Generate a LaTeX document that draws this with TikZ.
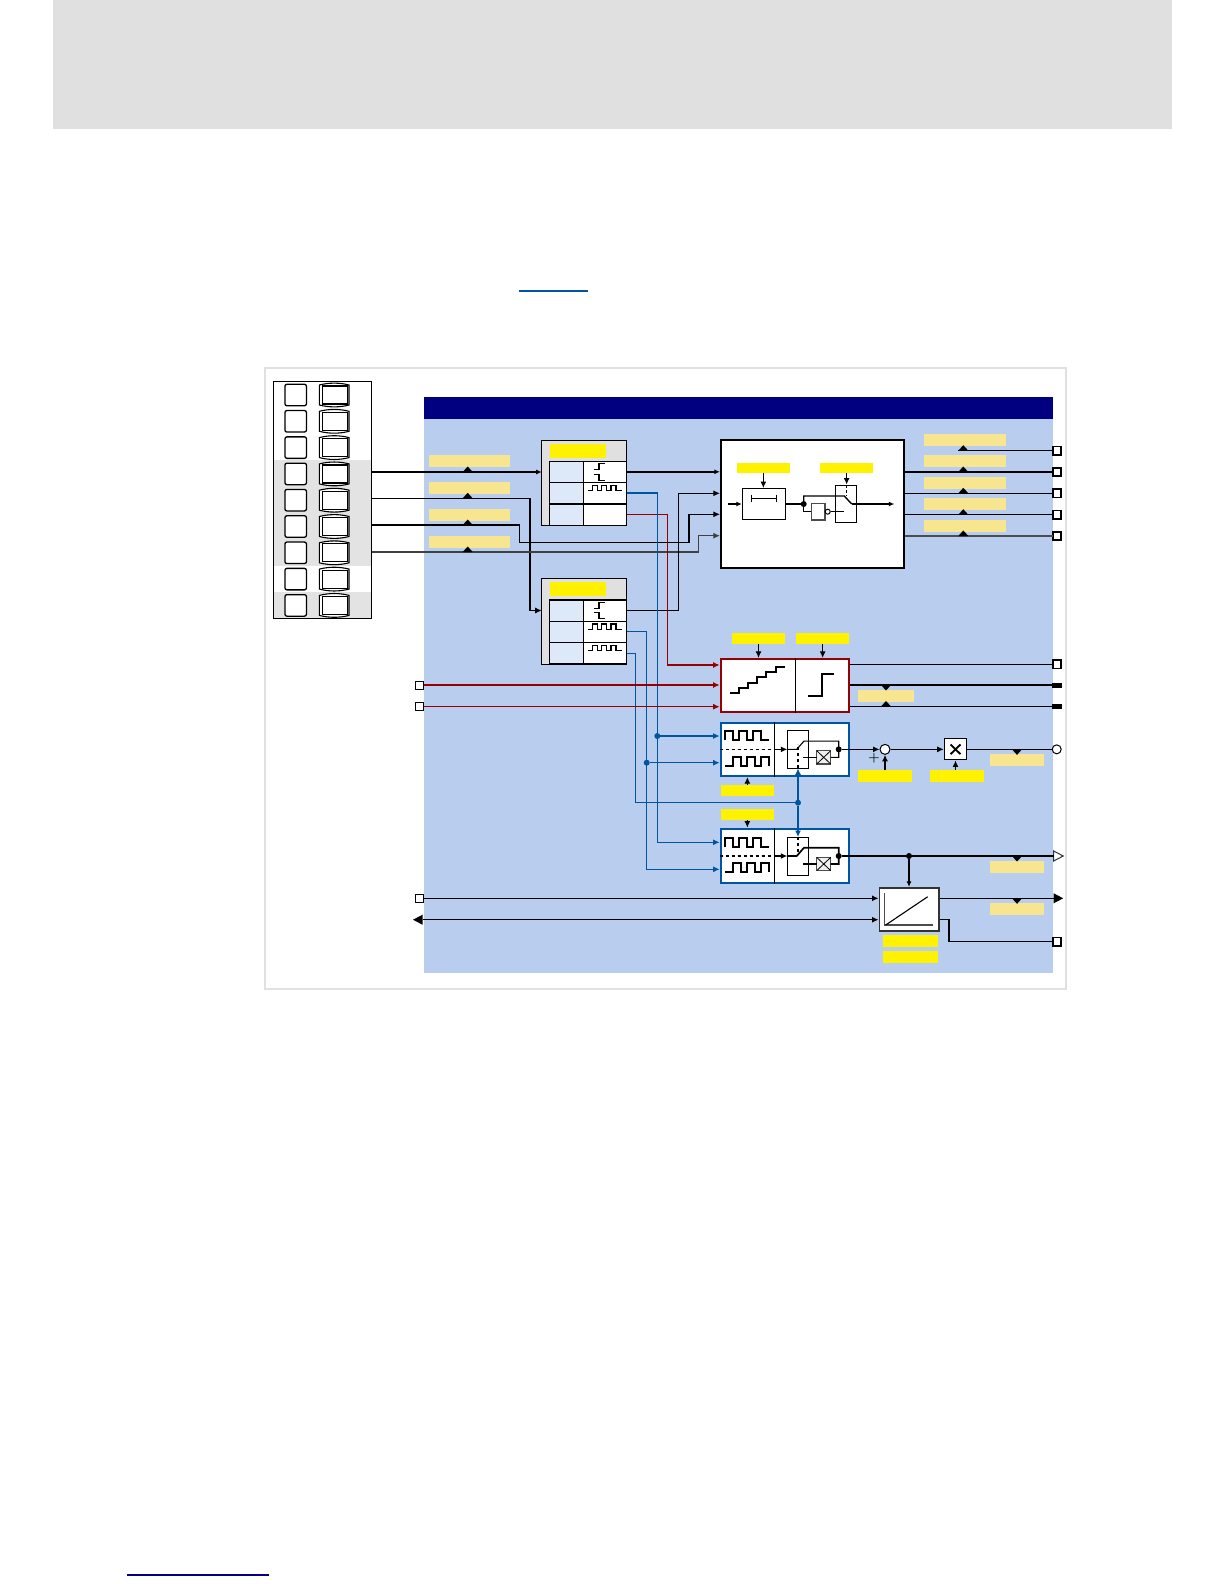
\documentclass[tikz,border=0pt]{standalone}
\usepackage{tikz}
\usetikzlibrary{arrows.meta}
\usetikzlibrary{shapes.geometric}
\definecolor{figMarco}{RGB}{224,224,224}
\definecolor{figPanel}{RGB}{185,206,239}
\definecolor{figNavy}{RGB}{0,0,128}
\definecolor{figPale}{RGB}{247,229,143}
\definecolor{figCelda}{RGB}{221,233,248}
\definecolor{figRojo}{RGB}{150,0,0}
\definecolor{figAzul}{RGB}{0,85,160}
\tikzset{
  patch/.style={rectangle, draw=none, inner sep=0pt, outer sep=0pt},
  pale/.style={patch, fill=figPale, minimum height=12pt},
  yellowtag/.style={patch, fill=yellow, minimum height=11.5pt},
  caja/.style={rectangle, draw=black, fill=white, line width=2.2pt, inner sep=0pt},
  cajaroja/.style={caja, draw=figRojo},
  cajaazul/.style={caja, draw=figAzul},
  celda/.style={rectangle, draw=black, line width=1pt, fill=white, inner sep=0pt, outer sep=0pt, minimum height=21.4pt},
  celdal/.style={celda, fill=figCelda, minimum width=34pt},
  celdar/.style={celda, minimum width=43.4pt},
  tabla/.style={rectangle, draw=black, line width=1pt, fill=figMarco, inner sep=0pt, outer sep=0pt, minimum width=85pt, minimum height=85pt},
  endsq/.style={rectangle, draw=black, fill=white, line width=1.8pt, minimum size=8.5pt, inner sep=0pt, outer sep=0pt},
  startsq/.style={endsq, line width=1pt, minimum size=8pt},
  endblack/.style={rectangle, fill=black, minimum width=10pt, minimum height=5pt, inner sep=0pt, outer sep=0pt},
  endtri/.style={isosceles triangle, isosceles triangle stretches, minimum height=9.5pt, minimum width=10pt, inner sep=0pt, outer sep=0pt},
  punto/.style={circle, fill=black, minimum size=6pt, inner sep=0pt, outer sep=0pt},
  puntoazul/.style={punto, fill=figAzul},
  circulo/.style={circle, draw=black, fill=white, line width=1pt, inner sep=0pt},
  linea/.style={line width=1.1pt, draw=black},
  flecha/.style={-{Latex[length=6.5pt,width=6pt]}, line width=1.1pt, draw=black},
  flechag/.style={flecha, line width=1.9pt, -{Latex[length=5.5pt,width=5pt]}},
  flechar/.style={flecha, draw=figRojo},
  flechaa/.style={flecha, draw=figAzul},
  tapup/.pic={\fill (-5,0) -- (0,-5.5) -- (5,0) -- cycle;},
  tapdown/.pic={\fill (-5,0) -- (0,5.5) -- (5,0) -- cycle;},
  edgepair/.pic={
    \draw[line width=1.1pt] (-11,-2.4) -- (-6,-2.4) -- (-6,-8.4) -- (0,-8.4);
    \draw[line width=1.1pt] (-11,2.4) -- (-6,2.4) -- (-6,8.4) -- (0,8.4);
  },
  smallpulse/.pic={
    \draw[line width=1.1pt] (-17,-2.2) -- (-12.7,-2.2) -- (-12.7,-7.8) -- (-7.7,-7.8) -- (-7.7,-2.2) -- (-3.3,-2.2) -- (-3.3,-7.8) -- (1.7,-7.8) -- (1.7,-2.2) -- (6,-2.2) -- (6,-7.8) -- (11,-7.8) -- (11,-2.2) -- (16.7,-2.2);
  },
  bigpulse/.pic={
    \draw[line width=1.7pt] (0,0) -- (0,-9) -- (8,-9) -- (8,0) -- (14,0) -- (14,-9) -- (22,-9) -- (22,0) -- (28,0) -- (28,-9) -- (36,-9) -- (36,0) -- (44,0);
  },
  lowpulse/.pic={
    \draw[line width=1.7pt] (0,0) -- (8,0) -- (8,-9) -- (16,-9) -- (16,0) -- (22,0) -- (22,-9) -- (30,-9) -- (30,0) -- (36,0) -- (36,-9) -- (44,-9) -- (44,0);
  },
  switchunit/.pic={
    \node[rectangle, draw=black, fill=white, line width=1pt, minimum width=21.4pt, minimum height=38pt, inner sep=0pt, outer sep=0pt] (box) at (0,0) {};
    \node[rectangle, draw=black!70, fill=black!6, line width=1.2pt, minimum width=14pt, minimum height=13.3pt, inner sep=0pt, outer sep=0pt] (cross) at (25.7,8) {};
    \draw[line width=0.8pt] (cross.north west) -- (cross.south east) (cross.north east) -- (cross.south west);
    \node[punto] (dot) at (40.7,0) {};
    \draw (-11,0) -- (-1.3,0) -- (6,-8.3) -- (40.7,-8.3) -- (40.7,8) -- (cross.east);
    \draw (5.3,8) -- (cross.west);
  }
}
\begin{document}
\begin{tikzpicture}[x=1pt,y=-1pt]
  \useasboundingbox (0,0) rectangle (1224,1584);
  \node[patch, fill=figMarco, minimum width=1119.5pt, minimum height=129pt] (header) at (612.25,64.5) {};
  \fill[figAzul] (519,290.4) rectangle (588,291.6);
  \fill[figNavy] (127,1574.4) rectangle (269,1575.6);
  \node[patch, draw=figMarco, line width=2.2pt, minimum width=801pt, minimum height=621pt] (frame) at (665.5,678.5) {};
  \node[patch, fill=figMarco!90, minimum width=97pt, minimum height=105.7pt] (bandA) at (322.5,512.85) {};
  \node[patch, fill=figMarco!90, minimum width=97pt, minimum height=26.3pt] (bandB) at (322.5,604.85) {};
  \node[patch, draw=black, line width=1.5pt, minimum width=98.4pt, minimum height=236.6pt] (terminal) at (322.5,500) {};
  \foreach \n [evaluate=\n as \y using 395+(\n-1)*26.3] in {1,...,9} {
    \node[rectangle, draw=black, fill=white, line width=1.3pt, rounded corners=2pt, minimum size=21.5pt, inner sep=0pt] (slot\n) at (295.7,\y) {};
    \draw[line width=1.1pt, fill=white] (319.4,\y-10) .. controls (329,\y-12.5) and (339.5,\y-12.5) .. (349,\y-10) -- (349,\y+10) .. controls (339.5,\y+12.5) and (329,\y+12.5) .. (319.4,\y+10) -- cycle;
    \node[rectangle, draw=black, line width=1.2pt, minimum width=24.7pt, minimum height=18pt, inner sep=0pt] (plug\n) at (335,\y) {};
  }
  \node[patch, fill=figPanel, minimum width=629pt, minimum height=553.7pt] (panel) at (738.5,695.85) {};
  \node[patch, fill=figNavy, minimum width=629pt, minimum height=22.3pt] (title) at (738.5,407.85) {};

  \foreach \n/\y in {1/461.15,2/488,3/515,4/541.65}
    \node[pale, minimum width=81pt] (paleIn\n) at (469.5,\y) {};
  \foreach \n/\y in {1/440,2/461.15,3/482.85,4/504,5/525.5}
    \node[pale, minimum width=82pt] (paleOut\n) at (965,\y) {};
  \node[pale, minimum width=55.4pt] (paleD) at (886,695.85) {};
  \foreach \n/\y in {1/760.15,2/866.85,3/909.15}
    \node[pale, minimum width=54pt] (paleE\n) at (1017,\y) {};

  \node[tabla] (blockA) at (584.2,482.8) {};
  \node[yellowtag, minimum width=56pt, minimum height=14pt] (tagA) at (578.3,451) {};
  \foreach \n/\y in {1/471.8,2/493,3/514.5} {
    \node[celdal] (aL\n) at (566.3,\y) {};
    \node[celdar] (aR\n) at (605,\y) {};
  }
  \draw[line width=1.8pt] (aL3.north west) -- (aR3.north east);
  \pic at (aR1.center) {edgepair};
  \pic at (aR2.center) {smallpulse};
  \node[tabla, minimum height=86pt] (blockB) at (584.2,621.3) {};
  \node[yellowtag, minimum width=56pt, minimum height=14pt] (tagB) at (578.3,589) {};
  \foreach \n/\y in {1/610.5,2/631.8,3/653.1} {
    \node[celdal] (bL\n) at (566.3,\y) {};
    \node[celdar] (bR\n) at (605,\y) {};
  }
  \draw[line width=1.8pt] (bL1.north west) -- (bR1.north east);
  \pic at (bR1.center) {edgepair};
  \pic at (bR2.center) {smallpulse};
  \pic at (bR3.center) {smallpulse};

  \node[caja, minimum width=183.3pt, minimum height=128pt] (blockC) at (812.65,504) {};
  \node[yellowtag, minimum width=53.3pt, minimum height=10.6pt] (tagC1) at (763.35,468) {};
  \node[yellowtag, minimum width=53.3pt, minimum height=10.6pt] (tagC2) at (846.65,468) {};
  \node[rectangle, draw=black, line width=1pt, minimum width=43.4pt, minimum height=31pt, inner sep=0pt] (boxH) at (764,504) {};
  \node[rectangle, draw=black, line width=1pt, minimum width=21.4pt, minimum height=37.3pt, inner sep=0pt] (boxS) at (846,503.65) {};
  \node[rectangle, draw=black!70, fill=white, line width=1.3pt, minimum width=13.3pt, minimum height=16.7pt, inner sep=0pt] (notBox) at (818.35,511.7) {};
  \node[circulo, minimum size=5pt] (bubble) at (827.7,511.7) {};
  \node[punto] (dotC) at (803.7,504) {};
  \coordinate (entryC) at (728.3,504);
  \coordinate (poleC) at (844.3,496);
  \coordinate (hingeC) at (851.7,504);
  \coordinate (exitC) at (894.3,504);
  \coordinate (contactC) at (844,511.7);
  \draw[{Bar[width=7pt]}-{Bar[width=7pt]}, line width=1pt] (750.7,498.3) -- (777.3,498.3);
  \draw[flecha] (tagC1.south) -- (tagC1.south |- boxH.north);
  \draw[flecha] (tagC2.south) -- (tagC2.south |- boxS.north);
  \draw[flechag] (entryC) -- (boxH.west);
  \draw[line width=1.7pt] (boxH.east) -- (dotC);
  \draw[line width=1.4pt] (dotC) |- (poleC) -- (hingeC);
  \draw[flechag] (hingeC) -- (exitC);
  \draw[line width=1.4pt] (dotC) |- (notBox.west);
  \draw[line width=1.4pt] (bubble.east) -- (contactC);
  \draw[linea, densely dashed] (boxS.north -| poleC) ++(2.4,0) -- (846.7,496);

  \node[cajaroja, minimum width=128.6pt, minimum height=53pt] (blockD) at (785,685.5) {};
  \coordinate (divD) at (795.3,0);
  \draw[linea] (divD |- blockD.north) -- (divD |- blockD.south);
  \draw[line width=1.8pt] (730,692.7) -- (739.3,692.7) -- (739.3,687.7) -- (747.7,687.7) -- (747.7,682.7) -- (756.7,682.7) -- (756.7,677.3) -- (765.7,677.3) -- (765.7,671.7) -- (775.7,671.7) -- (775.7,666.7) -- (785,666.7);
  \draw[line width=1.8pt] (808.3,696) -- (821.7,696) -- (821.7,674.3) -- (834,674.3);
  \node[yellowtag, minimum width=53pt] (tagD1) at (758.5,638.35) {};
  \node[yellowtag, minimum width=53.3pt] (tagD2) at (822.65,638.35) {};
  \draw[flecha] (tagD1.south) -- (tagD1.south |- blockD.north);
  \draw[flecha] (tagD2.south) -- (tagD2.south |- blockD.north);

  \node[cajaazul, minimum width=128.6pt, minimum height=53.3pt] (blockEa) at (785,749.35) {};
  \node[cajaazul, minimum width=128.6pt, minimum height=54.6pt] (blockEb) at (785,856) {};
  \coordinate (divE) at (774.7,0);
  \draw[linea] (divE |- blockEa.north) -- (divE |- blockEa.south);
  \draw[linea] (divE |- blockEb.north) -- (divE |- blockEb.south);
  \pic at (725,740.3) {bigpulse};
  \pic at (725,765.7) {lowpulse};
  \pic at (725,847.3) {bigpulse};
  \pic at (725,872.3) {lowpulse};
  \pic[line width=1.1pt] (swa) at (798,749.35) {switchunit};
  \pic[line width=1.7pt] (swb) at (798,856) {switchunit};
  \draw[linea, dashed] (blockEa.west) -- (divE |- blockEa.west);
  \draw[flecha] (divE |- blockEa.west) -- (swabox.west);
  \draw[line width=1.6pt, dashed] (blockEb.west) -- (divE |- blockEb.west);
  \draw[flecha, line width=1.4pt] (divE |- blockEb.west) -- (swbbox.west);
  \draw[linea, dashed] (swabox.south) -- ++(0,-24);
  \draw[linea, dashed] (swbbox.north) -- ++(0,15);
  \node[yellowtag, minimum width=53.3pt] (tagEa) at (747.35,790.35) {};
  \node[yellowtag, minimum width=53.3pt] (tagEb) at (747.35,814.5) {};
  \draw[flecha] (tagEa.north) -- (tagEa.north |- blockEa.south);
  \draw[flecha] (tagEb.south) -- (tagEb.south |- blockEb.north);

  \node[circulo, minimum size=10pt] (sum) at (885,749.35) {};
  \node[rectangle, draw=black, fill=white, line width=1.2pt, minimum width=22.4pt, minimum height=21pt, inner sep=0pt] (mult) at (955.5,749.35) {};
  \draw[line width=1.8pt] (950.5,744.5) -- (960.5,754.2) (960.5,744.5) -- (950.5,754.2);
  \node[font=\fontsize{13}{13}\selectfont\bfseries, inner sep=0pt] (plus) at (874,758.7) {+};
  \node[yellowtag, minimum width=54pt, minimum height=12pt] (tagSum) at (885,776) {};
  \node[yellowtag, minimum width=54pt, minimum height=12pt] (tagMult) at (957,776) {};
  \node[circulo, minimum size=9pt] (outSum) at (1056.7,749.35) {};
  \draw[flecha] (swadot) -- (sum.west);
  \draw[flecha] (sum) -- (mult.west);
  \draw[linea] (mult.east) -- (outSum.west);
  \draw[flecha] (tagSum.north) -- (sum.south);
  \draw[flecha] (tagMult.north -| mult.south) -- (mult.south);
  \pic at (1017,749.35) {tapdown};

  \node[rectangle, draw=black!80, fill=white, line width=1.6pt, minimum width=59.4pt, minimum height=43pt, inner sep=0pt] (blockF) at (909,909.2) {};
  \draw[line width=1.4pt, draw=black!70] (884.3,893.3) -- (884.3,925) -- (932.7,925);
  \draw[line width=1.1pt] (885.7,925) -- (927.7,896.7);
  \node[yellowtag, minimum width=55pt] (tagF1) at (910.5,940.85) {};
  \node[yellowtag, minimum width=55pt] (tagF2) at (910.5,957.15) {};
  \node[punto] (tapF) at (909,856) {};
  \node[endtri, draw=black!80, fill=white, line width=1pt] (outTri) at (1056.7,856) {};
  \node[endtri, fill=black] (outArrow) at (1056.7,898.3) {};
  \node[endtri, fill=black, shape border rotate=180] (backArrow) at (419.5,919.7) {};
  \node[startsq] (inF) at (419.5,898.3) {};
  \node[endsq] (outF) at (1057,941.7) {};
  \coordinate (jogF) at (949,919.5);
  \draw[line width=2.2pt] (swbdot) -- (outTri.west);
  \draw[flecha, line width=2.2pt, -{Latex[length=5.5pt,width=5pt]}] (tapF) -- (blockF.north);
  \draw[flecha] (inF.east) -- (blockF.west |- inF.east);
  \draw[flecha] (backArrow.east) -- (blockF.west |- backArrow.east);
  \draw[linea] (blockF.east |- outArrow.west) -- (outArrow.west);
  \draw[linea] (blockF.east |- jogF) -- (jogF) |- (outF.west);
  \pic at (1017,856) {tapdown};
  \pic at (1017,898.3) {tapdown};

  \coordinate (pinA) at (371.7,472);
  \coordinate (pinB) at (371.7,498.3);
  \coordinate (pinC) at (371.7,525);
  \coordinate (pinD) at (371.7,552);
  \coordinate (jogB) at (530,610.5);
  \coordinate (jogCa) at (519.3,542.7);
  \coordinate (jogCb) at (689,514.3);
  \coordinate (jogD) at (698.3,535.7);
  \coordinate (jogE) at (678.3,493.3);
  \coordinate (jogR) at (667.3,665);
  \coordinate (jogU) at (657.3,842.3);
  \coordinate (jogV) at (646.7,869.3);
  \coordinate (jogW) at (635.7,802.7);
  \node[puntoazul] (dotU) at (657.3,736) {};
  \node[puntoazul] (dotV) at (646.7,762.7) {};
  \node[puntoazul] (dotW) at (798,802.7) {};
  \draw[flechag] (pinA) -- (blockA.west |- pinA);
  \draw[flecha] (pinB) -| (jogB) -- (blockB.west |- jogB);
  \draw[flecha] (pinC) -| (jogCa) -| (jogCb) -- (blockC.west |- jogCb);
  \draw[flecha, draw=black!75] (pinD) -| (jogD) -- (blockC.west |- jogD);
  \draw[flechag] (aR1.east) -- (blockC.west |- aR1.east);
  \draw[flecha] (bR1.east) -| (jogE) -- (blockC.west |- jogE);
  \draw[flechar] (aR3.east) -| (jogR) -- (blockD.west |- jogR);
  \draw[flechaa] (aR2.east) -| (jogU) -- (blockEb.west |- jogU);
  \draw[flechaa, line width=1.7pt] (dotU) -- (blockEa.west |- dotU);
  \draw[flechaa] (bR2.east) -| (jogV) -- (blockEb.west |- jogV);
  \draw[flechaa] (dotV) -- (blockEa.west |- dotV);
  \draw[linea, draw=figAzul] (bR3.east) -| (jogW) -- (dotW);
  \draw[flechaa] (dotW) -- (swabox.south);
  \draw[flechaa] (dotW) -- (swbbox.north);
  \foreach \y in {472,498.3,525,552}
    \pic at (467.7,\y) {tapup};

  \node[startsq] (inRa) at (419.5,685) {};
  \node[startsq] (inRb) at (419.5,706.7) {};
  \draw[flechar] (inRa.east) -- (blockD.west |- inRa.east);
  \draw[flechar] (inRb.east) -- (blockD.west |- inRb.east);

  \foreach \n/\y in {1/450.7,2/472,3/493.3,4/514.7,5/536}
    \node[endsq] (outC\n) at (1057,\y) {};
  \coordinate (tapC) at (958.3,450.7);
  \draw[linea] (tapC) -- (outC1.west);
  \draw[line width=1.9pt] (blockC.east |- outC2.west) -- (outC2.west);
  \draw[linea] (blockC.east |- outC3.west) -- (outC3.west);
  \draw[linea] (blockC.east |- outC4.west) -- (outC4.west);
  \draw[linea, draw=black!70] (blockC.east |- outC5.west) -- (outC5.west);
  \foreach \y in {450.7,472,493.3,514.7,536}
    \pic at (963.3,\y) {tapup};

  \node[endsq] (outDa) at (1057,664.3) {};
  \node[endblack] (outDb) at (1057,685) {};
  \node[endblack] (outDc) at (1057,706.5) {};
  \draw[linea] (blockD.east |- outDa.west) -- (outDa.west);
  \draw[linea] (blockD.east |- outDb.west) -- (outDb.west);
  \draw[linea] (blockD.east |- outDc.west) -- (outDc.west);
  \pic at (886,685) {tapdown};
  \pic at (886,706.5) {tapup};
\end{tikzpicture}
\end{document}
